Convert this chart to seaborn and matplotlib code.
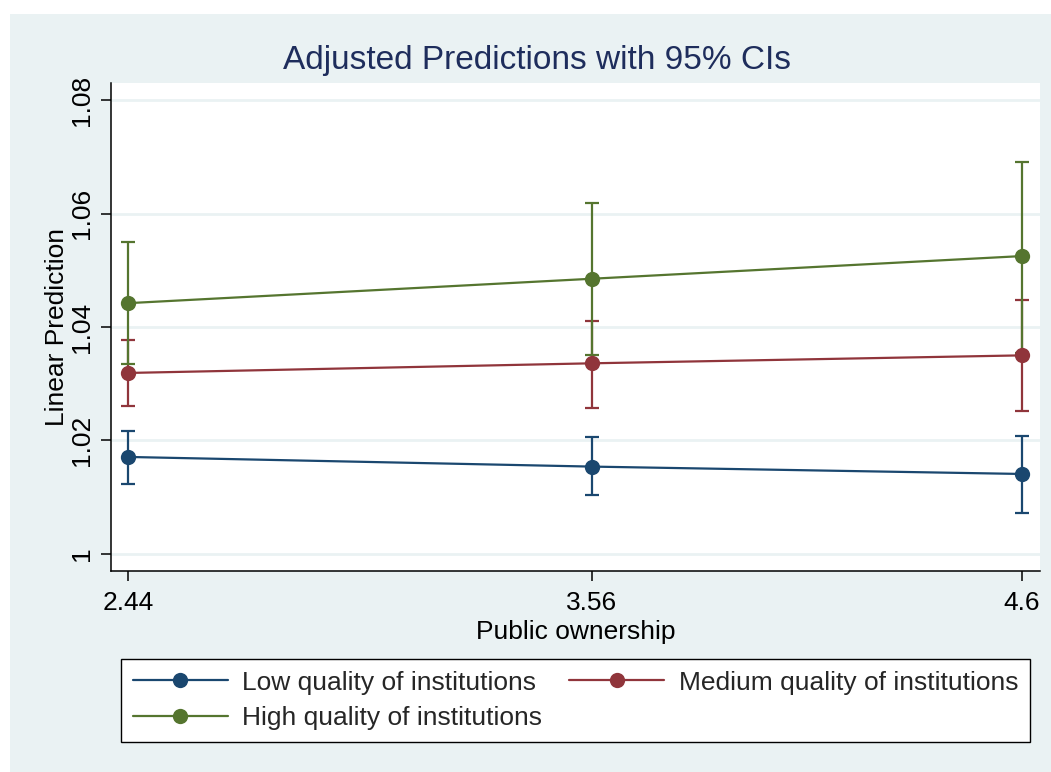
import pandas as pd
import matplotlib.pyplot as plt
import matplotlib.patches as mpatches
import seaborn as sns

# values
ownership = [2.44, 3.56, 4.6]
groups = ["Low quality of institutions", "Medium quality of institutions", "High quality of institutions"]
low_pred = [1.0171, 1.0154, 1.0141]
low_lo = [1.0124, 1.0104, 1.0072]
low_hi = [1.0217, 1.0206, 1.0208]
med_pred = [1.0319, 1.0336, 1.0350]
med_lo = [1.0261, 1.0258, 1.0252]
med_hi = [1.0377, 1.0411, 1.0448]
high_pred = [1.0442, 1.0485, 1.0525]
high_lo = [1.0334, 1.0351, 1.0355]
high_hi = [1.0549, 1.0619, 1.0690]
y_ticks = [1.0, 1.02, 1.04, 1.06, 1.08]
y_tick_labels = ["1", "1.02", "1.04", "1.06", "1.08"]

colors = ["#1a476f", "#90353b", "#55752f"]
bg = "#eaf2f3"

rows = []
for g, p, lo, hi in zip(groups, [low_pred, med_pred, high_pred],
                        [low_lo, med_lo, high_lo], [low_hi, med_hi, high_hi]):
    for x, a, b, c in zip(ownership, p, lo, hi):
        rows.append({"ownership": x, "group": g, "pred": a, "lo": b, "hi": c})
df = pd.DataFrame(rows)

sns.set_theme(style="white")
plt.rcParams["font.family"] = ["Liberation Sans", "DejaVu Sans"]

fig = plt.figure(figsize=(10.51, 7.72), dpi=100)
fig.patch.set_facecolor("white")
fig.patches.append(mpatches.Rectangle((10 / 1051, 0), 1, 1 - 14 / 772,
                                      transform=fig.transFigure, facecolor=bg,
                                      edgecolor="none", zorder=-10))

ax = fig.add_axes([0.1053, 0.2608, 0.8842, 0.6317])
ax.set_facecolor("white")

for i, g in enumerate(groups):
    d = df[df["group"] == g]
    ax.errorbar(d["ownership"], d["pred"],
                yerr=[d["pred"] - d["lo"], d["hi"] - d["pred"]],
                fmt="none", ecolor=colors[i], elinewidth=1.6, capsize=5,
                capthick=1.6, zorder=2 + i)

sns.lineplot(data=df, x="ownership", y="pred", hue="group", hue_order=groups,
             palette=colors, marker="o", markersize=11, markeredgewidth=0,
             linewidth=1.6, ax=ax, legend=False, zorder=5)

ax.set_xlim(2.398, 4.6435)
ax.set_ylim(0.99706, 1.083)
ax.set_xticks(ownership)
ax.set_xticklabels(["2.44", "3.56", "4.6"])
ax.set_yticks(y_ticks)
ax.set_yticklabels(y_tick_labels, rotation=90, va="center")
ax.tick_params(axis="both", direction="out", length=7, width=1.1, color="black",
               labelsize=19, labelcolor="black", left=True, bottom=True)
ax.tick_params(axis="x", pad=7.5)
ax.tick_params(axis="y", pad=5)
ax.grid(axis="y", color=bg, linewidth=2)
ax.grid(axis="x", visible=False)
for s in ["top", "right"]:
    ax.spines[s].set_visible(False)
for s in ["left", "bottom"]:
    ax.spines[s].set_color("black")
    ax.spines[s].set_linewidth(1.1)

ax.set_xlabel("Public ownership", fontsize=19, color="black", labelpad=4)
ax.set_ylabel("Linear Prediction", fontsize=19, color="black", va="center")
ax.yaxis.set_label_coords(-0.058, 0.5)

fig.text(537 / 1051, 1 - 60 / 772, "Adjusted Predictions with 95% CIs", ha="center",
         va="center", fontsize=24, color="#1e2d5c")

handles = [plt.Line2D([], [], color=colors[i], marker="o", markersize=11,
                      markeredgewidth=0, linewidth=1.6) for i in range(3)]
order = [0, 2, 1]
leg = fig.legend([handles[i] for i in order], [groups[i] for i in order],
                 loc="center", ncol=2, mode="expand",
                 bbox_to_anchor=(0.1151, 0.0363, 0.865, 0.1127),
                 borderaxespad=0, fontsize=19, frameon=True, fancybox=False,
                 handlelength=3.6, handletextpad=0.55, labelspacing=0.45,
                 borderpad=0.45, columnspacing=1.0)
leg.get_frame().set_edgecolor("black")
leg.get_frame().set_linewidth(1.0)
leg.get_frame().set_facecolor("white")
leg.get_frame().set_alpha(1)

fig.savefig("out.png", dpi=100, facecolor=fig.get_facecolor())
